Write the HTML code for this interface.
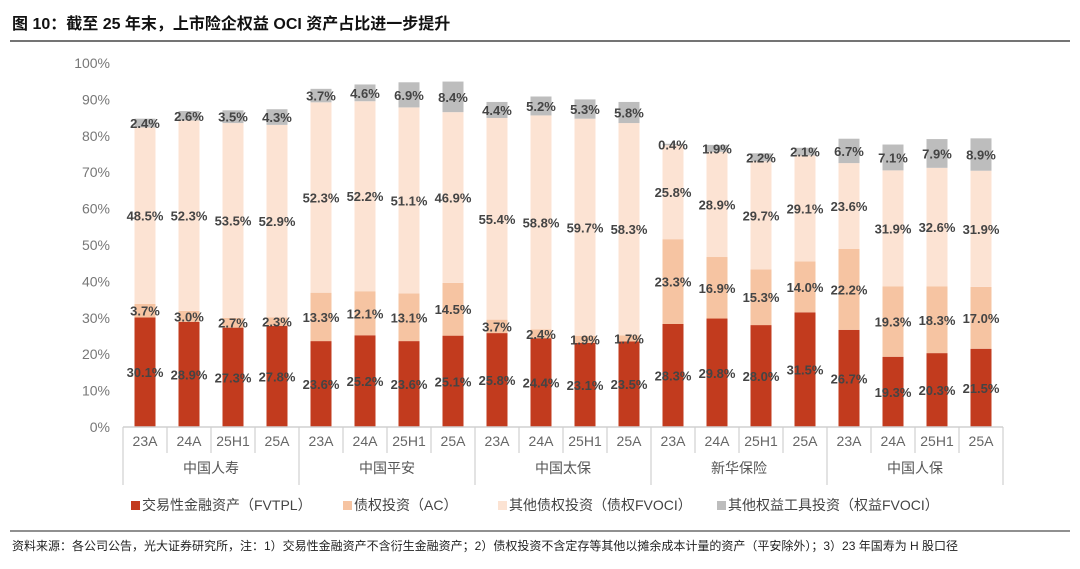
<!DOCTYPE html>
<html><head><meta charset="utf-8"><style>
body{margin:0;background:#fff;width:1080px;height:564px;overflow:hidden;font-family:"Liberation Sans","Noto Sans CJK SC",sans-serif}
svg text{font-family:"Liberation Sans","Noto Sans CJK SC",sans-serif}
</style></head><body>
<svg id="c" width="1080" height="564">
<text x="12" y="29" font-size="16" font-weight="bold" fill="#111">图 10：截至 25 年末，上市险企权益 OCI 资产占比进一步提升</text>
<line x1="10" y1="41" x2="1070" y2="41" stroke="#222" stroke-width="1.2"/>
<line x1="10" y1="531" x2="1070" y2="531" stroke="#222" stroke-width="1"/>
<text x="12" y="550" font-size="12" fill="#222">资料来源：各公司公告，光大证券研究所，注：1）交易性金融资产不含衍生金融资产；2）债权投资不含定存等其他以摊余成本计量的资产（平安除外）；3）23 年国寿为 H 股口径</text>
<g id="plot"></g>
</svg>
<script>
const groups=["中国人寿","中国平安","中国太保","新华保险","中国人保"];
const periods=["23A","24A","25H1","25A"];
const fvtpl=[30.1,28.9,27.3,27.8, 23.6,25.2,23.6,25.1, 25.8,24.4,23.1,23.5, 28.3,29.8,28.0,31.5, 26.7,19.3,20.3,21.5];
const ac=[3.7,3.0,2.7,2.3, 13.3,12.1,13.1,14.5, 3.7,2.4,1.9,1.7, 23.3,16.9,15.3,14.0, 22.2,19.3,18.3,17.0];
const debtOci=[48.5,52.3,53.5,52.9, 52.3,52.2,51.1,46.9, 55.4,58.8,59.7,58.3, 25.8,28.9,29.7,29.1, 23.6,31.9,32.6,31.9];
const eqOci=[2.4,2.6,3.5,4.3, 3.7,4.6,6.9,8.4, 4.4,5.2,5.3,5.8, 0.4,1.9,2.2,2.1, 6.7,7.1,7.9,8.9];
const yTicks=[0,10,20,30,40,50,60,70,80,90,100];
const seriesNames=["交易性金融资产（FVTPL）","债权投资（AC）","其他债权投资（债权FVOCI）","其他权益工具投资（权益FVOCI）"];
const colors=["#c23b1e","#f6c4a2","#fce3d3","#bdbdbd"];
const NS="http://www.w3.org/2000/svg";
const g=document.getElementById('plot');
const X0=123,CW=44,Y0=427,Y100=63,BW=21;
const y=v=>Y0-(v/100)*(Y0-Y100);
const xc=i=>X0+CW*i+CW/2;
function mk(t,a,txt){const e=document.createElementNS(NS,t);for(const k in a)e.setAttribute(k,a[k]);if(txt!=null)e.textContent=txt;g.appendChild(e);return e;}
yTicks.forEach(t=>{const e=mk('text',{x:110,y:y(t)+5,'font-size':14,fill:'#777','text-anchor':'end'},t+'%');

});
const series=[fvtpl,ac,debtOci,eqOci];
const n=fvtpl.length;
for(let i=0;i<n;i++){let base=0;
series.forEach((s,k)=>{const v=s[i];const r=mk('rect',{x:xc(i)-BW/2,y:y(base+v),width:BW,height:y(base)-y(base+v),fill:colors[k]});


base+=v;});}
for(let i=0;i<n;i++){let base=0;
series.forEach((s,k)=>{const v=s[i];
const l=mk('text',{x:xc(i),y:y(base+v/2)+5,'font-size':13,'font-weight':'bold',fill:'#444','text-anchor':'middle'},v.toFixed(1)+'%');


base+=v;});}
const ax=mk('line',{x1:X0,y1:Y0,x2:X0+CW*n,y2:Y0,stroke:'#d0d0d0','stroke-width':1.5});


for(let i=0;i<=n;i++){const major=i%4===0;const t=mk('line',{x1:X0+CW*i,y1:Y0,x2:X0+CW*i,y2:major?485:453,stroke:'#d0d0d0','stroke-width':1.2});

}
for(let i=0;i<n;i++){const t=mk('text',{x:xc(i),y:446,'font-size':14,fill:'#666','text-anchor':'middle'},periods[i%4]);

}
groups.forEach((gr,j)=>{const t=mk('text',{x:X0+CW*(4*j+2),y:473,'font-size':14,fill:'#555','text-anchor':'middle'},gr);

});
const lx=[131,343,498,717];
seriesNames.forEach((s,k)=>{const r=mk('rect',{x:lx[k],y:501,width:9,height:9,fill:colors[k]});


const t=mk('text',{x:lx[k]+11,y:510,'font-size':14,fill:'#444'},s);

});
</script>
</body></html>
